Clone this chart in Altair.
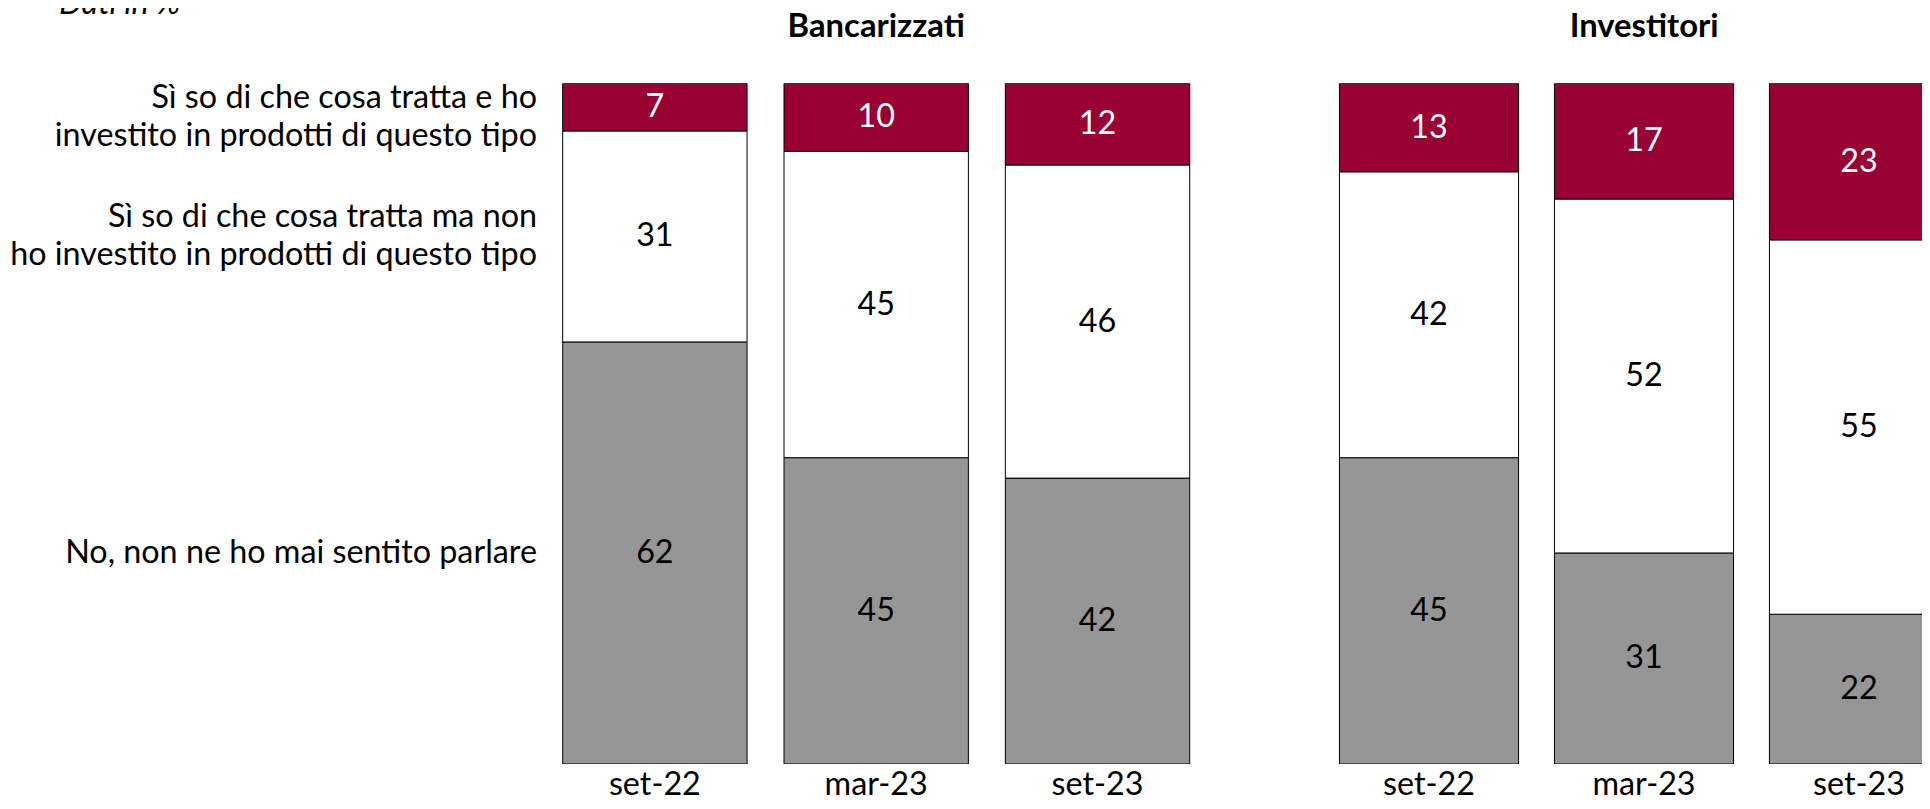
import altair as alt
import pandas as pd

# ---------------- data ----------------
groups = ["Bancarizzati", "Investitori"]
periods = ["set-22", "mar-23", "set-23"]
categories = [
    "No, non ne ho mai sentito parlare",
    "Sì so di che cosa tratta ma non ho investito in prodotti di questo tipo",
    "Sì so di che cosa tratta e ho investito in prodotti di questo tipo",
]
category_lines = [
    ["No, non ne ho mai sentito parlare"],
    ["Sì so di che cosa tratta ma non ", "ho investito in prodotti di questo tipo"],
    ["Sì so di che cosa tratta e ho ", "investito in prodotti di questo tipo"],
]
bar_colors = ["#969696", "#ffffff", "#990033"]
text_colors = ["#000000", "#000000", "#ffffff"]

banc_no = [62, 45, 42]
banc_non_inv = [31, 45, 46]
banc_inv = [7, 10, 12]
inv_no = [45, 31, 22]
inv_non_inv = [42, 52, 55]
inv_inv = [13, 17, 23]
subtitle = "Dati in %"

series = {
    "Bancarizzati": [banc_no, banc_non_inv, banc_inv],
    "Investitori": [inv_no, inv_non_inv, inv_inv],
}

rows = []
for g in groups:
    for pi, p in enumerate(periods):
        base = 0
        for ci, c in enumerate(categories):
            v = series[g][ci][pi]
            rows.append({
                "group": g, "period": p, "cat": c, "value": v,
                "y0": base, "y1": base + v, "mid": base + v / 2,
                "tcol": text_colors[ci],
            })
            base += v
df = pd.DataFrame(rows)

# category labels on the left, at the centre of the first bar's segments
first = df[(df.group == groups[0]) & (df.period == periods[0])].reset_index(drop=True)
lab = pd.DataFrame({
    "cat": categories,
    "lines": category_lines,
    "mid": first["mid"].tolist(),
    "idx": [0, 1, 2],
})

FONT = "Lato"
FS = 32.3
H = 680.7

color_scale = alt.Scale(domain=categories, range=bar_colors)
y_scale = alt.Scale(domain=[0, 100], nice=False, zero=False)


def panel(group, width, range_width=None, title_dx=0):
    d = df[df.group == group]
    sc = dict(paddingInner=0.167, paddingOuter=0.0835)
    if range_width is not None:
        sc["range"] = [0, range_width]
    x = alt.X(
        "period:N", sort=periods,
        scale=alt.Scale(**sc),
        axis=alt.Axis(title=None, labelAngle=0, domain=False, ticks=False,
                      labelFont=FONT, labelFontSize=FS, labelColor="#000000",
                      labelPadding=4, grid=False),
    )
    bars = alt.Chart(d).mark_bar(stroke="#000000", strokeWidth=1, clip=True).encode(
        x=x,
        y=alt.Y("y0:Q", scale=y_scale, axis=None),
        y2="y1:Q",
        color=alt.Color("cat:N", scale=color_scale, legend=None),
    )
    vals = alt.Chart(d).mark_text(font=FONT, fontSize=FS, baseline="middle").encode(
        x=alt.X("period:N", sort=periods),
        y=alt.Y("mid:Q", scale=y_scale, axis=None),
        text=alt.Text("value:Q"),
        color=alt.Color("tcol:N", scale=None),
    )
    return alt.layer(bars, vals).properties(
        width=width, height=H,
        title=alt.TitleParams(group, font=FONT, fontSize=32.8, fontWeight="bold",
                              color="#000000", anchor="middle", offset=39.7,
                              dx=title_dx),
    )


LW = 529


def label_layer(idx, dy):
    return alt.Chart(lab).transform_filter(f"datum.idx == {idx}").mark_text(
        font=FONT, fontSize=FS, align="right", baseline="middle",
        lineHeight=38, color="#000000", dy=dy,
    ).encode(x=alt.value(LW), y=alt.Y("mid:Q", scale=y_scale, axis=None),
             text="lines")


labels = alt.layer(
    label_layer(0, 0), label_layer(1, -19), label_layer(2, -9)
).properties(width=LW, height=H)

# only the bottom of the note shows, as in the original picture
header = alt.Chart(pd.DataFrame({"t": [subtitle]})).mark_text(
    font=FONT, fontSize=FS, fontStyle="italic", align="left",
    baseline="alphabetic", clip=True, color="#000000",
).encode(x=alt.value(51), y=alt.value(6), text="t:N").properties(width=300, height=6)

left_part = alt.hconcat(labels, panel("Bancarizzati", 664), spacing=7.2)
# the right panel is cut by the picture edge, as in the original picture
bottom = alt.hconcat(left_part, panel("Investitori", 601.3, range_width=645, title_dx=22),
                     spacing=112.5)

chart = alt.vconcat(header, bottom, spacing=-3.7).properties(
    autosize=alt.AutoSizeParams(type="none"),
    padding={"left": 0, "top": 0, "right": 1914, "bottom": 793},
    background="#ffffff",
).configure_view(stroke=None)

chart.save("out.html", embed_options={"renderer": "svg", "actions": False})
